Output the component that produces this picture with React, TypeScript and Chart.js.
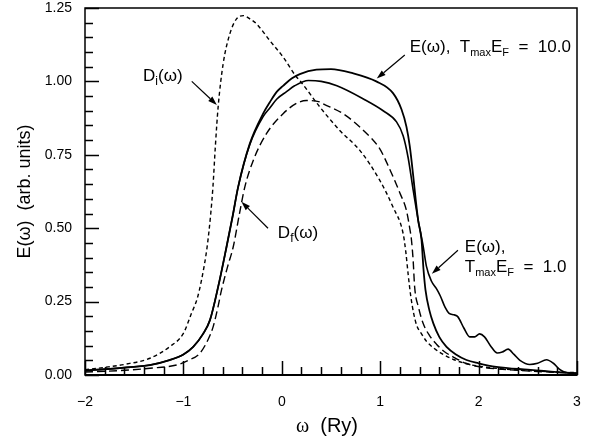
import React, { useEffect, useRef } from "react";
import { Chart, registerables } from "chart.js";
Chart.register(...registerables);

// ---- data ----
const diX = [-2.0, -1.8, -1.6, -1.34, -1.14, -1.0, -0.918, -0.86, -0.816, -0.759, -0.722, -0.70, -0.675, -0.647, -0.596, -0.528, -0.46, -0.39, -0.32, -0.257, -0.122, 0.013, 0.149, 0.183, 0.386, 0.589, 0.793, 0.996, 1.13, 1.233, 1.26, 1.285, 1.31, 1.34, 1.37, 1.42, 1.47, 1.55, 1.64, 1.75, 1.88, 2.0, 2.2, 2.5, 2.8, 3.0];
const diY = [0.018, 0.026, 0.036, 0.057, 0.096, 0.142, 0.21, 0.26, 0.323, 0.436, 0.55, 0.64, 0.78, 0.913, 1.06, 1.162, 1.213, 1.224, 1.212, 1.196, 1.139, 1.083, 1.015, 1.003, 0.913, 0.833, 0.765, 0.663, 0.572, 0.482, 0.42, 0.34, 0.27, 0.21, 0.17, 0.14, 0.115, 0.09, 0.07, 0.052, 0.038, 0.03, 0.022, 0.015, 0.01, 0.008];

const dfX = [-2.0, -1.6, -1.34, -1.07, -0.95, -0.833, -0.75, -0.698, -0.65, -0.613, -0.55, -0.494, -0.43, -0.376, -0.29, -0.156, 0.013, 0.149, 0.25, 0.386, 0.42, 0.623, 0.83, 0.996, 1.098, 1.2, 1.267, 1.30, 1.318, 1.335, 1.35, 1.39, 1.436, 1.50, 1.572, 1.65, 1.74, 1.87, 2.01, 2.3, 2.6, 3.0];
const dfY = [0.01, 0.016, 0.023, 0.034, 0.05, 0.074, 0.12, 0.164, 0.23, 0.289, 0.37, 0.436, 0.55, 0.64, 0.731, 0.822, 0.89, 0.925, 0.935, 0.93, 0.924, 0.89, 0.833, 0.77, 0.70, 0.62, 0.56, 0.50, 0.459, 0.39, 0.30, 0.23, 0.176, 0.135, 0.105, 0.08, 0.062, 0.04, 0.028, 0.018, 0.012, 0.006];

const e10X = [-2.0, -1.6, -1.34, -1.14, -1.0, -0.90, -0.80, -0.73, -0.647, -0.562, -0.50, -0.444, -0.325, -0.19, -0.12, -0.05, 0.013, 0.10, 0.183, 0.352, 0.50, 0.72, 0.96, 1.13, 1.216, 1.267, 1.30, 1.335, 1.36, 1.386, 1.42, 1.44, 1.46, 1.50, 1.54, 1.60, 1.674, 1.77, 1.877, 2.0, 2.18, 2.5, 2.8, 3.0];
const e10Y = [0.015, 0.025, 0.034, 0.051, 0.07, 0.096, 0.14, 0.187, 0.30, 0.436, 0.54, 0.64, 0.788, 0.89, 0.93, 0.965, 0.985, 1.01, 1.025, 1.04, 1.042, 1.028, 1.0, 0.96, 0.905, 0.845, 0.78, 0.68, 0.6, 0.527, 0.46, 0.36, 0.29, 0.22, 0.176, 0.13, 0.096, 0.07, 0.051, 0.04, 0.028, 0.018, 0.01, 0.006];

const e1X = [-2.0, -1.6, -1.34, -1.14, -1.0, -0.90, -0.80, -0.73, -0.647, -0.562, -0.50, -0.444, -0.325, -0.19, -0.12, -0.05, 0.048, 0.13, 0.27, 0.40, 0.56, 0.83, 1.03, 1.166, 1.233, 1.284, 1.335, 1.386, 1.436, 1.47, 1.52, 1.57, 1.61, 1.66, 1.70, 1.75, 1.79, 1.85, 1.91, 1.96, 2.01, 2.06, 2.12, 2.19, 2.24, 2.30, 2.36, 2.42, 2.52, 2.60, 2.69, 2.76, 2.82, 2.87, 2.92, 3.0];
const e1Y = [0.015, 0.025, 0.034, 0.051, 0.07, 0.096, 0.14, 0.187, 0.30, 0.436, 0.54, 0.64, 0.785, 0.88, 0.91, 0.94, 0.965, 0.985, 1.003, 1.0, 0.985, 0.94, 0.9, 0.862, 0.815, 0.74, 0.63, 0.527, 0.44, 0.37, 0.32, 0.295, 0.27, 0.23, 0.21, 0.205, 0.198, 0.16, 0.13, 0.13, 0.14, 0.13, 0.10, 0.075, 0.078, 0.088, 0.07, 0.05, 0.036, 0.04, 0.052, 0.04, 0.02, 0.01, 0.006, 0.005];

const yTicks = [0, 0.25, 0.5, 0.75, 1.0, 1.25];
const xTicks = [-2, -1, 0, 1, 2, 3];

const SANS = "'Liberation Sans', Arial, sans-serif";
const SERIF = "'Liberation Serif', 'Times New Roman', serif";

type Part = { t: string; size: number; dy?: number; font?: string };
type Note = { x: number; y: number; lines: Part[][]; lineGap: number; from: [number, number]; to: [number, number] };

const notes: Note[] = [
  {
    x: -1.41, y: 1.0, lineGap: 0,
    lines: [[{ t: "D", size: 17 }, { t: "i", size: 12, dy: 4 }, { t: "(ω)", size: 17 }]],
    from: [-0.915, 1.0], to: [-0.66, 0.92],
  },
  {
    x: -0.04, y: 0.466, lineGap: 0,
    lines: [[{ t: "D", size: 17 }, { t: "f", size: 12, dy: 4 }, { t: "(ω)", size: 17 }]],
    from: [-0.14, 0.5], to: [-0.41, 0.59],
  },
  {
    x: 1.30, y: 1.099, lineGap: 0,
    lines: [[{ t: "E(ω),  T", size: 17 }, { t: "max", size: 11, dy: 4 }, { t: "E", size: 17 }, { t: "F", size: 11, dy: 4 }, { t: "  =  10.0", size: 17 }]],
    from: [1.25, 1.09], to: [0.965, 1.01],
  },
  {
    x: 1.86, y: 0.418, lineGap: 20,
    lines: [
      [{ t: "E(ω),", size: 17 }],
      [{ t: "T", size: 17 }, { t: "max", size: 11, dy: 4 }, { t: "E", size: 17 }, { t: "F", size: 11, dy: 4 }, { t: "  =  1.0", size: 17 }],
    ],
    from: [1.79, 0.425], to: [1.525, 0.345],
  },
];

function drawParts(ctx: CanvasRenderingContext2D, x: number, y: number, parts: Part[]) {
  let cx = x;
  for (const p of parts) {
    ctx.font = `${p.size}px ${p.font || SANS}`;
    ctx.fillText(p.t, cx, y + (p.dy || 0));
    cx += ctx.measureText(p.t).width;
  }
}

function arrow(ctx: CanvasRenderingContext2D, x1: number, y1: number, x2: number, y2: number) {
  const ang = Math.atan2(y2 - y1, x2 - x1);
  const hl = 9, hw = 3;
  const bx = x2 - hl * Math.cos(ang), by = y2 - hl * Math.sin(ang);
  ctx.beginPath();
  ctx.moveTo(x1, y1);
  ctx.lineTo(bx, by);
  ctx.lineWidth = 1.2;
  ctx.stroke();
  ctx.beginPath();
  ctx.moveTo(x2, y2);
  ctx.lineTo(bx + hw * Math.sin(ang), by - hw * Math.cos(ang));
  ctx.lineTo(bx - hw * Math.sin(ang), by + hw * Math.cos(ang));
  ctx.closePath();
  ctx.fill();
}

const framePlugin = {
  id: "frame",
  afterDraw(chart: any) {
    const { ctx, chartArea: a, scales } = chart;
    const xs = scales.x, ys = scales.y;
    ctx.save();
    ctx.strokeStyle = "#000";
    ctx.fillStyle = "#000";
    ctx.lineWidth = 1.5;
    ctx.strokeRect(a.left, a.top, a.right - a.left, a.bottom - a.top);
    ctx.lineWidth = 2;
    ctx.beginPath();
    ctx.moveTo(a.left, a.bottom);
    ctx.lineTo(a.right, a.bottom);
    ctx.stroke();
    // inward ticks
    ctx.lineWidth = 1.5;
    ctx.beginPath();
    for (let i = 0; i <= 25; i++) {
      const px = Math.round(xs.getPixelForValue(-2 + i * 0.2)) + 0.5;
      const len = i % 5 === 0 ? 14 : 8;
      ctx.moveTo(px, a.bottom);
      ctx.lineTo(px, a.bottom - len);
    }
    for (let i = 0; i <= 25; i++) {
      const py = Math.round(ys.getPixelForValue(i * 0.05)) + 0.5;
      const len = i % 5 === 0 ? 14 : 8;
      ctx.moveTo(a.left, py);
      ctx.lineTo(a.left + len, py);
    }
    ctx.stroke();
    // x title
    ctx.textBaseline = "alphabetic";
    const cx = (a.left + a.right) / 2 - 4;
    ctx.font = `20px ${SERIF}`;
    const w1 = ctx.measureText("ω").width;
    ctx.font = `20px ${SANS}`;
    const w2 = ctx.measureText("  (Ry)").width;
    const sx = cx - (w1 + w2) / 2;
    ctx.font = `20px ${SERIF}`;
    ctx.fillText("ω", sx, 432);
    ctx.font = `20px ${SANS}`;
    ctx.fillText("  (Ry)", sx + w1, 432);
    // annotations
    for (const n of notes) {
      const tx = xs.getPixelForValue(n.x), ty = ys.getPixelForValue(n.y);
      n.lines.forEach((ln, i) => drawParts(ctx, tx, ty + i * n.lineGap, ln));
      arrow(ctx, xs.getPixelForValue(n.from[0]), ys.getPixelForValue(n.from[1]), xs.getPixelForValue(n.to[0]), ys.getPixelForValue(n.to[1]));
    }
    ctx.restore();
  },
};

function pts(xa: number[], ya: number[]) {
  return xa.map((x, i) => ({ x, y: ya[i] }));
}

export default function App() {
  const ref = useRef<HTMLCanvasElement>(null);
  useEffect(() => {
    const common = { pointRadius: 0, borderColor: "#000", fill: false, cubicInterpolationMode: "monotone" as const };
    const chart = new Chart(ref.current!, {
      type: "line",
      data: {
        datasets: [
          { ...common, label: "Di", data: pts(diX, diY), borderWidth: 1.4, borderDash: [4, 3] },
          { ...common, label: "Df", data: pts(dfX, dfY), borderWidth: 1.4, borderDash: [8, 4] },
          { ...common, label: "E10", data: pts(e10X, e10Y), borderWidth: 1.8 },
          { ...common, label: "E1", data: pts(e1X, e1Y), borderWidth: 1.6 },
        ],
      },
      options: {
        animation: false,
        responsive: false,
        layout: { padding: { left: 0, right: 13, top: 8, bottom: 0 } },
        plugins: { legend: { display: false }, tooltip: { enabled: false } },
        scales: {
          x: {
            type: "linear", min: -2, max: 3,
            grid: { display: false, drawTicks: false },
            border: { display: false },
            afterBuildTicks: (s: any) => { s.ticks = xTicks.map((v) => ({ value: v })); },
            afterFit: (s: any) => { s.height = 65; s.paddingLeft = 0; s.paddingRight = 0; },
            ticks: {
              color: "#000", padding: 19, maxRotation: 0,
              font: { family: SANS, size: 14 },
              callback: (v: any) => (Number(v) < 0 ? "\u2212" + Math.abs(Number(v)) : String(v)),
            },
          },
          y: {
            type: "linear", min: 0, max: 1.25,
            grid: { display: false, drawTicks: false },
            border: { display: false },
            afterBuildTicks: (s: any) => { s.ticks = yTicks.map((v) => ({ value: v })); },
            afterFit: (s: any) => { s.width = 85; s.paddingTop = 0; s.paddingBottom = 0; },
            ticks: {
              color: "#000", padding: 13,
              font: { family: SANS, size: 14 },
              callback: (v: any) => Number(v).toFixed(2),
            },
            title: {
              display: true, text: "E(ω)  (arb. units)", color: "#000",
              font: { family: SANS, size: 18 }, padding: { top: 14, bottom: 0 },
            },
          },
        },
      },
      plugins: [framePlugin],
    });
    return () => chart.destroy();
  }, []);
  return (
    <div style={{ position: "fixed", left: 0, top: 0, width: 590, height: 440, background: "#fff" }}>
      <canvas ref={ref} width={590} height={440} />
    </div>
  );
}
